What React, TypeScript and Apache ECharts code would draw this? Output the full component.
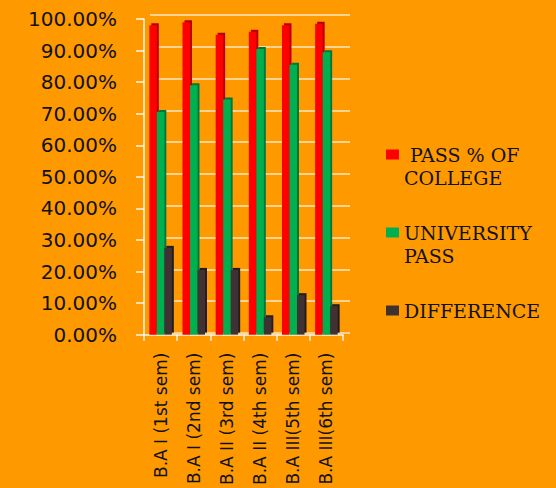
import React, { useEffect, useRef } from "react";
import * as echarts from "echarts";

const categories = [
  "B.A I (1st sem)",
  "B.A I (2nd sem)",
  "B.A II (3rd sem)",
  "B.A II (4th sem)",
  "B.A III(5th sem)",
  "B.A III(6th sem)",
];
const collegePass = [98, 99, 95, 96, 98, 98.5];
const universityPass = [70.5, 79, 74.5, 90.5, 85.5, 89.5];
const difference = [27.5, 20.5, 20.5, 5.5, 12.5, 9];
const seriesNames = ["PASS % OF COLLEGE", "UNIVERSITY PASS", "DIFFERENCE"];
const legendLabels: Record<string, string> = {
  "PASS % OF COLLEGE": "\n PASS % OF\nCOLLEGE",
  "UNIVERSITY PASS": "\nUNIVERSITY\nPASS",
  DIFFERENCE: "\nDIFFERENCE\n ",
};

export default function App() {
  const ref = useRef<HTMLDivElement>(null);
  useEffect(() => {
    if (!ref.current) return;
    const chart = echarts.init(ref.current, null, { renderer: "svg" });
    const gridLine = "rgba(255,246,230,0.85)";
    const axisWhite = "#FFF6E8";
    const mkSeries = (name: string, data: number[], color: string, side: string) => ({
      name,
      type: "bar",
      xAxisIndex: 0,
      yAxisIndex: 0,
      data,
      barWidth: 7.5,
      barGap: "0%",
      itemStyle: {
        color,
        shadowColor: side,
        shadowBlur: 0,
        shadowOffsetX: 2,
        shadowOffsetY: -2,
      },
    });
    chart.setOption({
      animation: false,
      backgroundColor: "#FF9900",
      legend: {
        orient: "vertical",
        left: 386,
        top: 120,
        padding: 0,
        itemGap: 9,
        itemWidth: 13,
        itemHeight: 10,
        icon: "rect",
        selectedMode: false,
        data: seriesNames,
        formatter: (n: string) => legendLabels[n] ?? n,
        textStyle: {
          fontFamily: "DejaVu Serif",
          fontSize: 19,
          lineHeight: 23,
          color: "#111111",
        },
      },
      grid: [
        { left: 144, right: 213, top: 19, bottom: 151 },
        { left: 150, right: 206, top: 15, bottom: 155 },
      ],
      xAxis: [
        {
          type: "category",
          gridIndex: 0,
          data: categories,
          axisLine: { lineStyle: { color: axisWhite, width: 1.5 } },
          axisTick: { show: true, length: 6, lineStyle: { color: axisWhite, width: 1.5 } },
          axisLabel: {
            rotate: 90,
            margin: 18,
            fontFamily: "DejaVu Sans",
            fontSize: 17,
            color: "#111111",
            interval: 0,
          },
        },
        {
          type: "category",
          gridIndex: 1,
          data: categories,
          show: false,
        },
      ],
      yAxis: [
        {
          type: "value",
          gridIndex: 0,
          min: 0,
          max: 100,
          interval: 10,
          axisLine: { show: true, lineStyle: { color: axisWhite, width: 1.5 } },
          axisTick: { show: true, length: 8, lineStyle: { color: axisWhite, width: 1.5 } },
          splitLine: { show: false },
          axisLabel: {
            margin: 27,
            fontFamily: "DejaVu Sans",
            fontSize: 20,
            color: "#111111",
            formatter: (v: number) => v.toFixed(2) + "%",
          },
        },
        {
          type: "value",
          gridIndex: 1,
          min: 0,
          max: 100,
          interval: 10,
          axisLine: { show: false },
          axisTick: { show: false },
          axisLabel: { show: false },
          splitLine: { show: true, lineStyle: { color: gridLine, width: 1.5 } },
        },
      ],
      series: [
        mkSeries(seriesNames[0], collegePass, "#FF0000", "#B80000"),
        mkSeries(seriesNames[1], universityPass, "#00B050", "#00783A"),
        mkSeries(seriesNames[2], difference, "#403131", "#261C1C"),
      ],
    });
    return () => chart.dispose();
  }, []);
  return (
    <div
      ref={ref}
      style={{ position: "fixed", left: 0, top: 0, width: 556, height: 488 }}
    />
  );
}
